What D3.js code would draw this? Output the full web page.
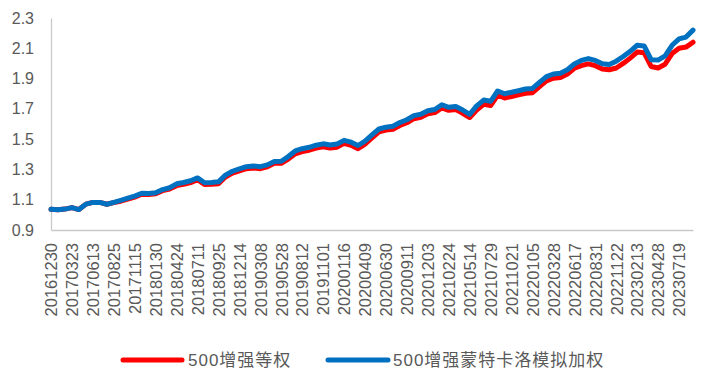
<!DOCTYPE html>
<html>
<head>
<meta charset="utf-8">
<script src="https://cdn.jsdelivr.net/npm/d3@7/dist/d3.min.js"></script>
<style>
  html, body { margin: 0; padding: 0; background: #fff; }
  svg { display: block; font-family: "Liberation Sans", Arial, "Noto Sans CJK SC", sans-serif; }
</style>
</head>
<body>
<svg id="chart" width="705" height="381"></svg>
<script>
// ---- data ----
const dates = [
  "20161230","20170124","20170222","20170323","20170418","20170516","20170613","20170706","20170731","20170825",
  "20170919","20171020","20171115","20171208","20180105","20180130","20180228","20180328","20180424","20180518",
  "20180614","20180711","20180803","20180829","20180925","20181024","20181119","20181214","20190110","20190212",
  "20190308","20190402","20190426","20190528","20190620","20190716","20190812","20190904","20191009","20191101",
  "20191126","20191219","20200116","20200217","20200313","20200409","20200506","20200602","20200630","20200723",
  "20200817","20200911","20201012","20201105","20201203","20201228","20210125","20210224","20210319","20210416",
  "20210514","20210608","20210705","20210729","20210823","20210916","20211021","20211115","20211209","20220105",
  "20220128","20220301","20220328","20220425","20220524","20220617","20220712","20220805","20220831","20220926",
  "20221027","20221122","20221215","20230112","20230213","20230308","20230403","20230428","20230526","20230621",
  "20230719","20230811","20230905"
];
const tickDates = [
  "20161230","20170323","20170613","20170825","20171115","20180130","20180424","20180711","20180925","20181214",
  "20190308","20190528","20190812","20191101","20200116","20200409","20200630","20200911","20201203","20210224",
  "20210514","20210729","20211021","20220105","20220328","20220617","20220831","20221122","20230213","20230428",
  "20230719"
];
const equalWeight = [
  1.037,1.033,1.038,1.048,1.035,1.071,1.082,1.082,1.070,1.081,
  1.090,1.104,1.117,1.136,1.134,1.139,1.160,1.171,
  1.193,1.202,1.213,1.232,1.200,1.202,1.206,1.250,1.276,1.291,1.305,1.310,1.305,1.317,1.340,1.341,
  1.368,1.403,1.418,1.427,1.441,1.450,1.441,1.447,1.472,1.459,1.437,1.467,1.508,1.548,1.560,1.565,
  1.590,1.608,1.635,1.644,1.667,1.675,1.706,1.690,1.695,1.671,1.643,
  1.692,1.730,1.722,1.790,1.772,1.782,1.792,1.803,1.807,1.847,1.885,1.902,1.907,1.930,1.968,
  1.985,1.997,1.985,1.963,1.958,
  1.970,2.000,2.035,2.075,2.070,1.980,
  1.970,1.995,2.065,2.100,
  2.108,2.140
];
const monteCarlo = [
  1.037,1.033,1.038,1.048,1.035,1.071,1.082,1.082,1.070,1.083,
  1.096,1.110,1.124,1.143,1.141,1.146,1.167,1.179,
  1.205,1.214,1.225,1.244,1.212,1.214,1.218,1.262,1.288,1.304,1.318,1.323,1.318,1.330,1.353,1.354,
  1.385,1.422,1.437,1.446,1.460,1.469,1.461,1.468,1.492,1.480,1.458,1.487,1.528,1.567,1.579,1.585,
  1.610,1.628,1.655,1.664,1.688,1.696,1.727,1.710,1.716,1.692,1.664,
  1.720,1.758,1.750,1.818,1.800,1.810,1.820,1.831,1.835,1.875,1.913,1.930,1.935,1.958,1.996,
  2.020,2.032,2.020,1.998,1.993,
  2.015,2.046,2.080,2.120,2.115,2.025,
  2.022,2.050,2.120,2.162,
  2.174,2.220
];
const yTicks = [0.9, 1.1, 1.3, 1.5, 1.7, 1.9, 2.1, 2.3];
const seriesNames = ["500增强等权", "500增强蒙特卡洛模拟加权"];
const seriesColors = ["#FF0000", "#0070C0"];

// ---- chart ----
const svg = d3.select("#chart");
const plotLeft = 51, plotRight = 693, plotTop = 18, plotBottom = 230;

const x = d3.scalePoint().domain(dates).range([plotLeft, plotRight]).padding(0);
const y = d3.scaleLinear().domain([0.9, 2.3]).range([plotBottom, plotTop]);

const axisColor = "#C9C9C9";
const textColor = "#595959";

// y axis
const gy = svg.append("g").attr("transform", `translate(${plotLeft},0)`)
  .call(d3.axisLeft(y).tickValues(yTicks).tickSize(0).tickPadding(17).tickFormat(d3.format(".1f")));
gy.select(".domain").attr("stroke", axisColor).attr("stroke-width", 1.3);
gy.selectAll("text").attr("fill", textColor).style("font-size", "16px");

// x axis
const gx = svg.append("g").attr("transform", `translate(0,${plotBottom})`)
  .call(d3.axisBottom(x).tickValues(tickDates).tickSize(0));
gx.select(".domain").attr("stroke", axisColor).attr("stroke-width", 1.3);
gx.selectAll("text")
  .attr("fill", textColor).style("font-size", "16.5px")
  .attr("y", 0).attr("x", -13).attr("dy", "0.35em")
  .attr("transform", "rotate(-90)")
  .style("text-anchor", "end");

// lines
const line = d3.line().x((d, i) => x(dates[i])).y(d => y(d));
[equalWeight, monteCarlo].forEach((s, k) => {
  svg.append("path").datum(s)
    .attr("fill", "none")
    .attr("stroke", seriesColors[k])
    .attr("stroke-width", 5)
    .attr("stroke-linejoin", "round")
    .attr("stroke-linecap", "round")
    .attr("d", line);
});

// legend
const legendItems = [
  { x1: 123, x2: 182, tx: 188 },
  { x1: 328, x2: 388, tx: 393 }
];
const ly = 360;
legendItems.forEach((p, k) => {
  svg.append("line").attr("x1", p.x1).attr("x2", p.x2).attr("y1", ly).attr("y2", ly)
    .attr("stroke", seriesColors[k]).attr("stroke-width", 5).attr("stroke-linecap", "round");
  svg.append("text").attr("x", p.tx).attr("y", ly).attr("dy", "0.36em")
    .attr("fill", textColor).style("font-size", "17px").style("letter-spacing", "1px")
    .text(seriesNames[k]);
});
</script>
</body>
</html>
